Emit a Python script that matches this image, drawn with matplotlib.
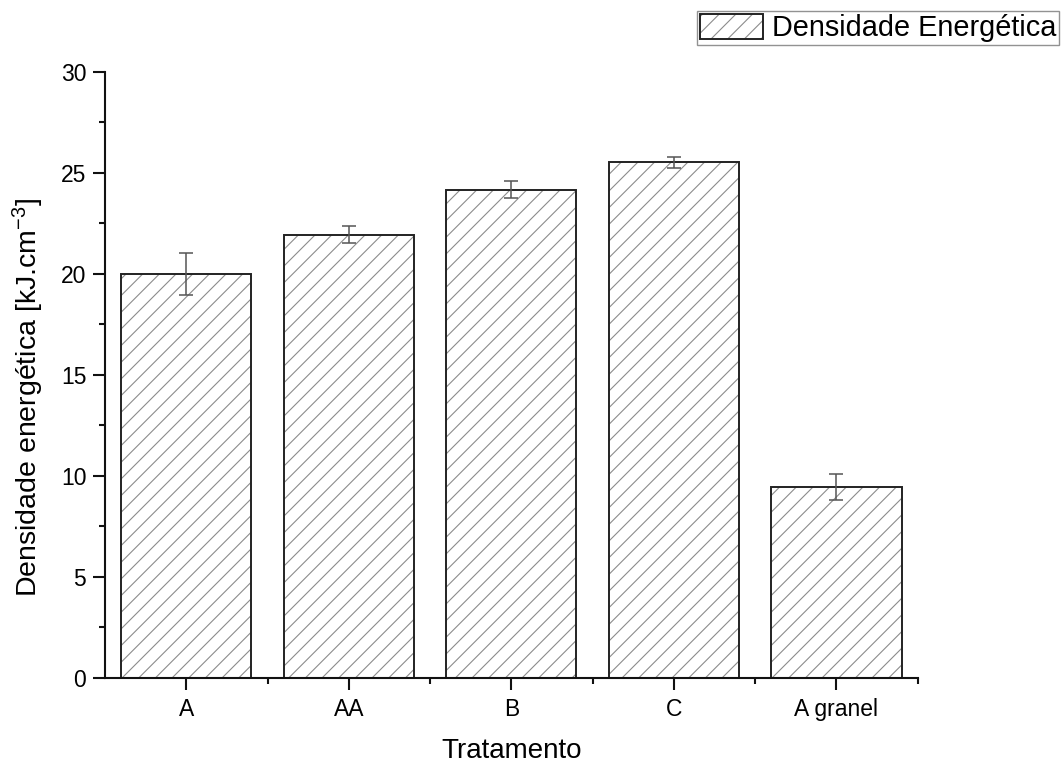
import matplotlib.pyplot as plt
import numpy as np
from matplotlib.ticker import MultipleLocator, FixedLocator

plt.rcParams['font.family'] = ['Liberation Sans', 'DejaVu Sans']
plt.rcParams['mathtext.default'] = 'regular'
plt.rcParams['hatch.linewidth'] = 0.8

tratamentos = ['A', 'AA', 'B', 'C', 'A granel']
densidade = [20.0, 21.95, 24.17, 25.52, 9.47]
erro = [1.04, 0.44, 0.41, 0.26, 0.65]


def main():
    fig = plt.figure(figsize=(10.61, 7.64), dpi=100)
    ax = fig.add_axes([0.099, 0.1126, 0.766, 0.7932])

    x = np.arange(1, len(tratamentos) + 1)
    # hatch follows edgecolor, so the gray hatch and the black outline are separate layers
    hatched = ax.bar(x, densidade, width=0.8, color='white', edgecolor='#8c8c8c',
                     linewidth=0, hatch='//', zorder=2)
    outline = ax.bar(x, densidade, width=0.8, fill=False, edgecolor='#222222',
                     linewidth=1.4, zorder=2.5)
    ax.errorbar(x, densidade, yerr=erro, fmt='none', ecolor='#555555',
                elinewidth=1.1, capsize=4.7, capthick=1.1, zorder=3)

    ax.set_xlim(0.5, len(tratamentos) + 0.5)
    ax.set_ylim(0, 30)
    ax.set_xticks(x)
    ax.set_xticklabels(tratamentos)
    ax.xaxis.set_minor_locator(FixedLocator(x + 0.5))
    ax.yaxis.set_major_locator(MultipleLocator(5))
    ax.yaxis.set_minor_locator(MultipleLocator(2.5))

    for side in ('top', 'right'):
        ax.spines[side].set_visible(False)
    for side in ('left', 'bottom'):
        ax.spines[side].set_linewidth(1.5)
        ax.spines[side].set_color('#111111')

    ax.tick_params(which='major', direction='out', length=8.5, width=1.5,
                   labelsize=16.5, pad=5, color='#111111')
    ax.tick_params(which='minor', direction='out', length=4.5, width=1.5,
                   color='#111111')
    ax.tick_params(axis='x', which='major', pad=6)

    ax.set_xlabel('Tratamento', fontsize=20, labelpad=12)
    ax.set_ylabel('Densidade energética [kJ.cm$^{-3}$]', fontsize=20.5)
    ax.yaxis.set_label_coords(-0.0726, 0.4637)

    leg = fig.legend(handles=[(hatched[0], outline[0])],
                     labels=['Densidade Energética'], loc='upper right',
                     bbox_to_anchor=(1059 / 1061, 1 - 11 / 764),
                     borderaxespad=0, fontsize=20.8, frameon=True, fancybox=False,
                     handlelength=2.2, handleheight=0.95, borderpad=0.1,
                     handletextpad=0.3)
    leg.get_frame().set_edgecolor('#777777')
    leg.get_frame().set_linewidth(1.0)

    fig.savefig('out.png', dpi=100)


if __name__ == '__main__':
    main()
